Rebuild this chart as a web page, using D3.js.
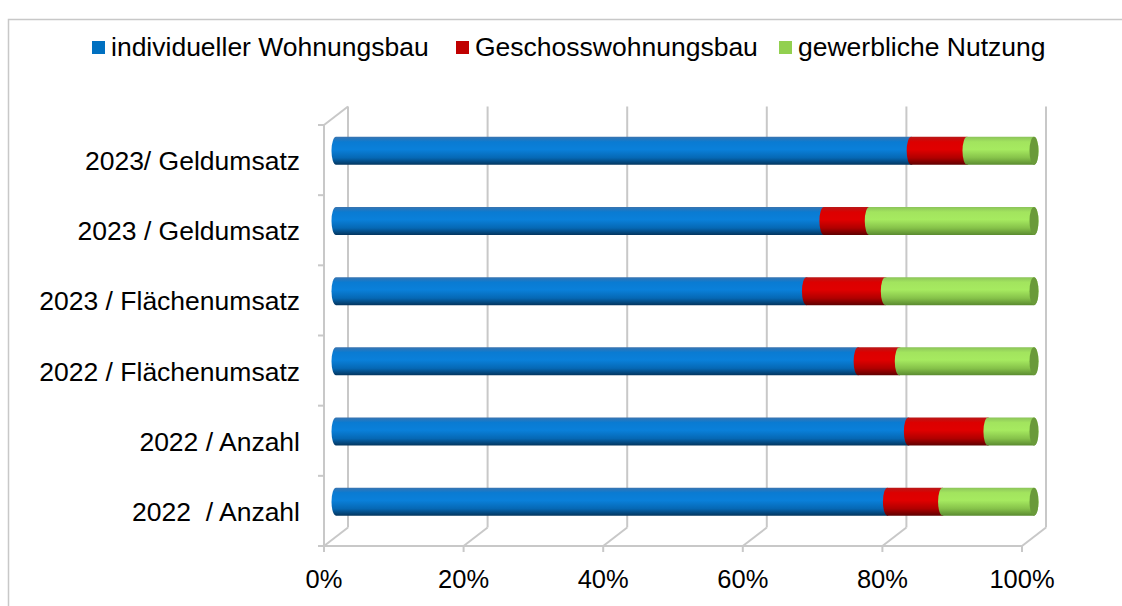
<!DOCTYPE html>
<html>
<head>
<meta charset="utf-8">
<script src="https://cdn.jsdelivr.net/npm/d3@7"></script>
<style>
  body { margin: 0; background: #fff; }
  text { font-family: "Liberation Sans", Arial, sans-serif; fill: #000; }
</style>
</head>
<body>
<svg width="1122" height="606"></svg>
<script>
// categories top to bottom
let categories = ["2023/ Geldumsatz", "2023 / Geldumsatz", "2023 / Flächenumsatz",
                  "2022 / Flächenumsatz", "2022 / Anzahl", "2022  / Anzahl"];
let seriesNames = ["individueller Wohnungsbau", "Geschosswohnungsbau", "gewerbliche Nutzung"];
let individuell = [82.4, 69.9, 67.4, 74.8, 82.0, 79.0];
let geschoss    = [8.0, 6.5, 11.3, 5.9, 11.4, 7.9];
let gewerblich  = [9.6, 23.6, 21.3, 19.3, 6.6, 13.1];
let tickValues = [0, 20, 40, 60, 80, 100];

let svg = d3.select("svg");

// 3D depth offset
const dx = 24, dy = -18.5;

let x = d3.scaleLinear().domain([0, 100]).range([324, 1022]);
let y = d3.scaleBand().domain(categories).range([125, 546]);

let colors = [
    { id: "gBlue", stops: ["#3a74b0", "#0a7bd2", "#0a80da", "#0668b4", "#03355e"], legend: "#0070c0", cap: "#04508e" },
    { id: "gRed", stops: ["#b81818", "#dc0000", "#e00000", "#b00000", "#5e0000"], legend: "#c00000", cap: "#8a0000" },
    { id: "gGreen", stops: ["#8cc45a", "#a2e45e", "#a6ea60", "#86c24a", "#5a8a30"], legend: "#92d050", cap: "#6a9a3a" }
];

let defs = svg.append("defs");
colors.forEach(c => {
    let g = defs.append("linearGradient").attr("id", c.id)
        .attr("x1", 0).attr("y1", 0).attr("x2", 0).attr("y2", 1);
    [0, 0.18, 0.45, 0.75, 1].forEach((o, i) => {
        g.append("stop").attr("offset", o).attr("stop-color", c.stops[i]);
    });
});

// outer border
svg.append("rect")
    .attr("x", 8.5).attr("y", 19.5)
    .attr("width", 1200).attr("height", 700)
    .style("fill", "none").style("stroke", "#c8c8c8").style("stroke-width", 1.5);

let grid = svg.append("g").style("stroke", "#c8c8c8").style("stroke-width", 2).style("fill", "none");
let yTop = y.range()[0], yBot = y.range()[1];

// back wall gridlines + floor diagonals
tickValues.forEach(t => {
    grid.append("line")
        .attr("x1", x(t) + dx).attr("y1", yTop + dy)
        .attr("x2", x(t) + dx).attr("y2", yBot + dy);
    grid.append("line")
        .attr("x1", x(t)).attr("y1", yBot)
        .attr("x2", x(t) + dx).attr("y2", yBot + dy);
    grid.append("line")
        .attr("x1", x(t)).attr("y1", yBot)
        .attr("x2", x(t)).attr("y2", yBot + 6);
});
// front floor edge
grid.append("line").attr("x1", x(0)).attr("y1", yBot).attr("x2", x(100)).attr("y2", yBot);
// left wall
grid.append("line").attr("x1", x(0)).attr("y1", yTop).attr("x2", x(0)).attr("y2", yBot);
grid.append("line").attr("x1", x(0)).attr("y1", yTop).attr("x2", x(0) + dx).attr("y2", yTop + dy);
// left axis ticks
categories.concat(["_end"]).forEach((c, i) => {
    let yy = i < categories.length ? y(c) : yBot;
    grid.append("line").attr("x1", x(0) - 6).attr("y1", yy).attr("x2", x(0)).attr("y2", yy);
});

// x tick labels
svg.append("g").selectAll("text").data(tickValues).join("text")
    .attr("x", d => x(d))
    .attr("y", 588)
    .attr("text-anchor", "middle")
    .style("font-size", "25.5px")
    .text(d => d + "%");

// category labels
svg.append("g").selectAll("text").data(categories).join("text")
    .attr("x", 300)
    .attr("y", d => y(d) + y.bandwidth() / 2 + 10)
    .attr("text-anchor", "end")
    .attr("xml:space", "preserve")
    .style("white-space", "pre")
    .style("font-size", "26.5px")
    .text(d => d);

// cylinder bars in the mid-depth plane
let series = [individuell, geschoss, gewerblich];
const rx = 4.5, barH = 28;
let bars = svg.append("g");
categories.forEach((cat, i) => {
    let cy = y(cat) + y.bandwidth() / 2 + dy / 2;
    let acc = 0;
    series.forEach((s, k) => {
        let x0 = x(acc) + dx / 2, x1 = x(acc + s[i]) + dx / 2;
        acc += s[i];
        let top = cy - barH / 2, bot = cy + barH / 2;
        let d = `M${x0},${top} L${x1},${top} A${rx},${barH / 2} 0 0 1 ${x1},${bot} L${x0},${bot} A${rx},${barH / 2} 0 0 1 ${x0},${top} Z`;
        bars.append("path").attr("d", d).style("fill", `url(#${colors[k].id})`);
        if (k === series.length - 1) {
            bars.append("ellipse")
                .attr("cx", x1).attr("cy", cy)
                .attr("rx", rx).attr("ry", barH / 2)
                .style("fill", colors[k].cap);
        }
    });
});

// legend
let legendItems = [
    { name: seriesNames[0], x: 92 },
    { name: seriesNames[1], x: 456 },
    { name: seriesNames[2], x: 779 }
];
let lg = svg.append("g");
legendItems.forEach((it, k) => {
    lg.append("rect").attr("x", it.x).attr("y", 41).attr("width", 13).attr("height", 13)
        .style("fill", colors[k].legend);
    lg.append("text").attr("x", it.x + 19).attr("y", 56)
        .style("font-size", "26.5px").text(it.name);
});
</script>
</body>
</html>
